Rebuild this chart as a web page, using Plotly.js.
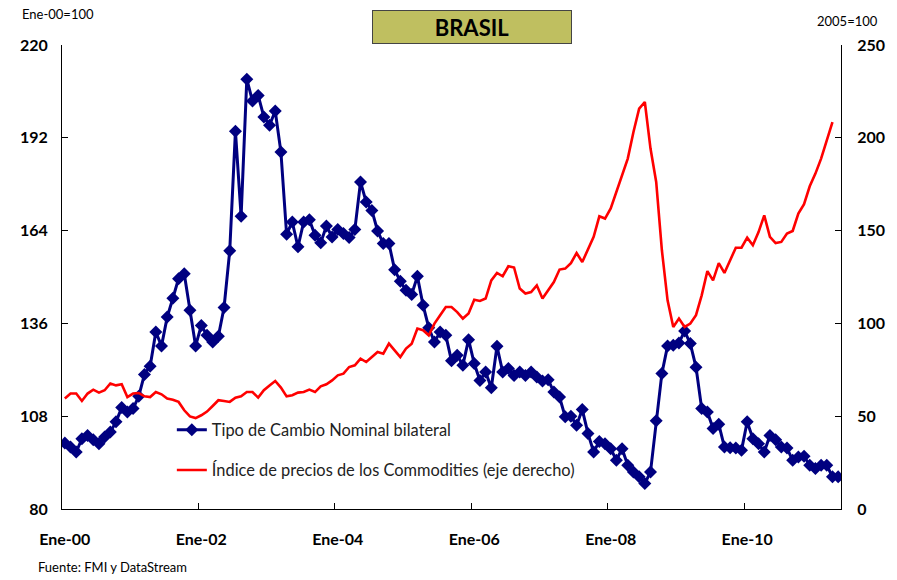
<!DOCTYPE html>
<html>
<head>
<meta charset="utf-8">
<script src="https://cdn.plot.ly/plotly-3.0.1.min.js"></script>
<style>
html,body{margin:0;padding:0;background:#fff;}
#chart{width:897px;height:580px;}
</style>
</head>
<body>
<div id="chart"></div>
<script>
// Month labels (Spanish abbreviations), Jan 2000 - May 2011
const MONTHS = ["Ene","Feb","Mar","Abr","May","Jun","Jul","Ago","Sep","Oct","Nov","Dic"];
const START_YEAR = 2000;
const N_MONTHS = 137;
const categories = [];
for (let k = 0; k < N_MONTHS; k++) {
  const y = START_YEAR + Math.floor(k / 12);
  categories.push(MONTHS[k % 12] + "-" + String(y % 100).padStart(2, "0"));
}

// Tipo de Cambio Nominal bilateral (Ene-00 = 100), left axis
const tipoCambio = [
  99.9, 98.7, 97.2, 101.2, 102.2, 100.9, 99.7, 101.7, 103.2, 106.3, 110.6, 109.3,
  110.3, 114.0, 120.6, 123.1, 133.4, 129.2, 137.9, 143.6, 149.5, 151.0, 140.0, 129.2,
  135.4, 132.4, 130.4, 132.1, 140.8, 157.9, 194.0, 168.3, 209.7, 203.1, 204.8, 198.3,
  195.8, 200.1, 187.7, 162.9, 166.6, 159.1, 166.6, 167.3, 162.6, 160.3, 165.4, 162.1,
  164.3, 163.1, 161.9, 164.3, 178.7, 172.6, 170.1, 163.9, 160.1, 160.1, 152.2, 148.7,
  146.0, 144.7, 150.2, 141.5, 134.7, 130.4, 133.4, 132.4, 124.7, 126.4, 123.4, 131.1,
  123.9, 118.8, 121.3, 116.6, 129.1, 121.3, 122.4, 120.3, 121.3, 120.3, 121.3, 119.8,
  118.6, 119.0, 115.3, 113.8, 107.8, 108.0, 105.3, 110.0, 102.8, 97.2, 100.4, 99.7,
  98.2, 94.7, 98.2, 93.2, 91.2, 89.7, 87.7, 91.2, 106.6, 120.9, 129.2, 129.4,
  130.1, 133.7, 129.9, 122.8, 110.3, 109.3, 104.3, 105.6, 98.7, 98.5, 98.4, 97.7,
  106.3, 101.2, 99.7, 97.2, 102.2, 100.9, 98.7, 98.4, 94.7, 95.7, 95.9, 93.2,
  92.2, 93.2, 93.2, 89.7, 89.7
];

// Índice de precios de los Commodities (2005 = 100), right axis
const commodities = [
  59.5, 62.2, 62.2, 58.2, 62.2, 64.3, 62.7, 64.0, 67.6, 66.6, 67.2, 60.3,
  62.2, 62.5, 60.7, 60.3, 63.0, 61.8, 59.5, 58.9, 57.7, 53.2, 49.9, 49.0,
  50.5, 52.5, 55.5, 58.6, 58.2, 57.7, 60.0, 60.7, 63.0, 63.0, 60.0, 64.0,
  66.6, 69.0, 65.4, 60.7, 61.3, 62.7, 63.0, 64.3, 63.0, 66.1, 67.2, 69.3,
  72.0, 72.9, 76.5, 77.4, 81.0, 79.2, 81.9, 84.6, 83.7, 89.1, 85.5, 81.9,
  86.4, 89.1, 97.2, 96.3, 93.6, 99.9, 104.4, 108.8, 108.8, 106.1, 102.6, 105.3,
  112.8, 112.1, 113.4, 123.2, 127.2, 125.4, 130.8, 130.1, 118.8, 116.1, 116.9, 120.5,
  113.4, 118.2, 122.3, 129.0, 129.5, 132.5, 137.9, 133.1, 140.3, 146.6, 157.7, 156.5,
  161.9, 170.8, 179.8, 188.8, 203.1, 215.7, 219.3, 194.2, 176.2, 139.4, 112.4, 98.1,
  102.6, 98.1, 99.9, 104.4, 115.1, 128.2, 123.2, 132.5, 127.2, 134.4, 140.8, 140.8,
  146.2, 142.1, 149.2, 158.2, 146.6, 143.3, 143.9, 148.4, 149.8, 159.2, 164.2, 173.9,
  180.7, 188.8, 199.0, 208.5
];

const xLabels = ["Ene-00", "Ene-02", "Ene-04", "Ene-06", "Ene-08", "Ene-10"];
const leftTicks = [80, 108, 136, 164, 192, 220];
const rightTicks = [0, 50, 100, 150, 200, 250];

const idx = (arr) => arr.map((_, i) => i);
const labelPos = xLabels.map(l => categories.indexOf(l));
const boundaryPos = labelPos.slice(1).map(p => p - 0.5);

const FONT = "Lato, 'Open Sans', sans-serif";

const traces = [
  {
    x: idx(tipoCambio), y: tipoCambio, type: "scatter", mode: "lines+markers",
    name: "Tipo de Cambio Nominal bilateral",
    line: {color: "#000080", width: 3},
    marker: {symbol: "diamond", size: 10, color: "#000080"},
    text: categories, hoverinfo: "text+y",
    legendgroup: "a", xaxis: "x", yaxis: "y"
  },
  {
    x: idx(commodities), y: commodities, type: "scatter", mode: "lines",
    name: "Índice de precios de los Commodities (eje derecho)",
    line: {color: "#ff0000", width: 2.6},
    text: categories, hoverinfo: "text+y",
    legendgroup: "b", xaxis: "x", yaxis: "y2"
  }
];

const layout = {
  width: 897, height: 580,
  margin: {l: 62, r: 56, t: 45, b: 71},
  paper_bgcolor: "#fff", plot_bgcolor: "#fff",
  font: {family: FONT, color: "#000"},
  showlegend: true,
  legend: {
    x: 0.141, y: 0.208, xanchor: "left", yanchor: "top",
    bgcolor: "rgba(0,0,0,0)", itemwidth: 30, traceorder: "grouped", tracegroupgap: 16,
    font: {family: FONT, size: 16.4, color: "#222"}
  },
  xaxis: {
    range: [-0.5, N_MONTHS - 0.5], showgrid: false, zeroline: false,
    showline: true, linecolor: "#000", linewidth: 1,
    tickmode: "array", tickvals: labelPos, ticktext: xLabels, ticks: "",
    ticklabelstandoff: 16,
    tickfont: {family: FONT, size: 16, color: "#000", weight: "bold"},
    minor: {tickmode: "array", tickvals: boundaryPos, ticks: "inside", ticklen: 6, tickcolor: "#000", showgrid: false},
    fixedrange: true
  },
  yaxis: {
    range: [80, 220], showgrid: false, zeroline: false,
    showline: true, linecolor: "#000", linewidth: 1,
    tickmode: "array", tickvals: leftTicks, ticks: "inside", ticklen: 6, tickcolor: "#000",
    ticklabelstandoff: 10,
    tickfont: {family: FONT, size: 16, color: "#000", weight: "bold"}
  },
  yaxis2: {
    range: [0, 250], overlaying: "y", side: "right", showgrid: false, zeroline: false,
    showline: true, linecolor: "#000", linewidth: 1,
    tickmode: "array", tickvals: rightTicks, ticks: "inside", ticklen: 6, tickcolor: "#000",
    ticklabelstandoff: 12,
    tickfont: {family: FONT, size: 16, color: "#000", weight: "bold"}
  },
  annotations: [
    {
      text: "<b>BRASIL</b>", xref: "paper", yref: "paper",
      x: 0.526, y: 1.038, xanchor: "center", yanchor: "middle", showarrow: false,
      width: 196, height: 30, bgcolor: "#bfbf60", bordercolor: "#444", borderwidth: 1,
      font: {family: FONT, size: 22, color: "#000"}
    },
    {
      text: "Ene-00=100", xref: "paper", yref: "paper",
      x: -0.054, y: 1.066, xanchor: "left", yanchor: "middle", showarrow: false,
      font: {family: FONT, size: 13, color: "#000"}
    },
    {
      text: "2005=100", xref: "paper", yref: "paper",
      x: 1.05, y: 1.052, xanchor: "right", yanchor: "middle", showarrow: false,
      font: {family: FONT, size: 13, color: "#000"}
    },
    {
      text: "Fuente: FMI y DataStream", xref: "paper", yref: "paper",
      x: -0.034, y: -0.126, xanchor: "left", yanchor: "middle", showarrow: false,
      font: {family: FONT, size: 13, color: "#000"}
    }
  ]
};

Plotly.newPlot("chart", traces, layout, {displayModeBar: false, staticPlot: true});
</script>
</body>
</html>
